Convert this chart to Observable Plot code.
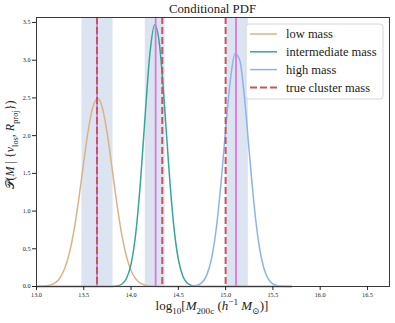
<!DOCTYPE html>
<html><head><meta charset="utf-8">
<script src="https://cdn.jsdelivr.net/npm/d3@7"></script>
<script src="https://cdn.jsdelivr.net/npm/@observablehq/plot@0.6"></script>
<style>body{margin:0;background:#fff;} svg{display:block}</style>
</head><body><div id="chart"></div>
<script>
const massGrid = [13.00,13.05,13.10,13.15,13.20,13.25,13.30,13.35,13.40,13.45,13.50,13.55,13.60,13.65,13.70,13.75,13.80,13.85,13.90,13.95,
  14.00,14.05,14.10,14.15,14.20,14.25,14.30,14.35,14.40,14.45,14.50,14.55,14.60,14.65,14.70,14.75,14.80,14.85,14.90,14.95,
  15.00,15.05,15.10,15.15,15.20,15.25,15.30,15.35,15.40,15.45,15.50,15.55,15.60,15.65,15.70];
const lowPdf = [0.001,0.003,0.008,0.021,0.052,0.118,0.244,0.455,0.772,1.186,1.654,2.090,2.396,2.492,2.350,2.010,1.559,1.097,0.700,0.405,
  0.213,0.101,0.044,0.017,0.006,0.002,0,0,0,0,0,0,0,0,0,0,0,0,0,0,
  0,0,0,0,0,0,0,0,0,0,0,0,0,0,0];
const intermediatePdf = [0,0,0,0,0,0,0,0,0,0,0,0,0,0,0,0,0.001,0.007,0.030,0.103,
  0.297,0.709,1.399,2.287,3.095,3.470,3.214,2.467,1.567,0.824,0.359,0.129,0.039,0.010,0.002,0,0,0,0,0,
  0,0,0,0,0,0,0,0,0,0,0,0,0,0,0];
const highPdf = [0,0,0,0,0,0,0,0,0,0,0,0,0,0,0,0,0,0,0,0,
  0,0,0,0,0,0,0,0,0,0,0,0,0.001,0.004,0.016,0.053,0.151,0.365,0.759,1.355,
  2.077,2.734,3.089,2.996,2.495,1.783,1.094,0.577,0.261,0.101,0.034,0.010,0.002,0,0];
const seriesNames = ["low mass", "intermediate mass", "high mass"];
const seriesColors = ["#dab384", "#35a699", "#8cb2f2"];
const bandLo = [13.48, 14.15, 15.01];
const bandHi = [13.81, 14.36, 15.24];
const estimateMass = [13.64, 14.26, 15.11];
const trueMass = [13.64, 14.33, 15.00];
const xTicks = [13.0, 13.5, 14.0, 14.5, 15.0, 15.5, 16.0, 16.5];
const yTicks = [0.0, 0.5, 1.0, 1.5, 2.0, 2.5, 3.0, 3.5];
const legendLabels = ["low mass", "intermediate mass", "high mass", "true cluster mass"];
const trueColor = "#cc525b";
const estimateColor = "#d97ad9";
const bandColor = "#dde4f1";

const rows = [];
[lowPdf, intermediatePdf, highPdf].forEach((arr, k) =>
  arr.forEach((v, i) => rows.push({series: seriesNames[k], mass: massGrid[i], pdf: v})));
const bands = bandLo.map((lo, i) => ({lo, hi: bandHi[i]}));

const FONT = "'Liberation Serif', 'DejaVu Serif', serif";
const plot = Plot.plot({
  width: 395, height: 323,
  marginLeft: 36, marginRight: 6, marginTop: 17, marginBottom: 37,
  style: {fontFamily: FONT, fontSize: "6.2px", color: "#222", background: "white", overflow: "visible"},
  x: {domain: [13, 16.733], label: null},
  y: {domain: [0, 3.566], label: null},
  color: {domain: seriesNames, range: seriesColors},
  marks: [
    Plot.rect(bands, {x1: "lo", x2: "hi", fill: bandColor}),
    Plot.line(rows, {x: "mass", y: "pdf", z: "series", stroke: "series", strokeWidth: 1.5, curve: "monotone-x"}),
    Plot.ruleX(estimateMass, {x: d => d, stroke: estimateColor, strokeWidth: 1.8}),
    Plot.ruleX(trueMass, {x: d => d, stroke: trueColor, strokeWidth: 2, strokeDasharray: "7,3"}),
    Plot.frame({stroke: "#3a3a3a", strokeWidth: 1}),
    Plot.axisX({ticks: xTicks, tickFormat: d3.format(".1f"), tickSize: 4, tickPadding: 2, label: null}),
    Plot.axisY({ticks: yTicks, tickFormat: d3.format(".1f"), tickSize: 4, tickPadding: 2, label: null})
  ]
});
document.getElementById("chart").appendChild(plot);

const svg = d3.select(plot);
function richText(sel, parts, size) {
  let shift = 0;
  parts.forEach(([t, kind]) => {
    const target = kind === "sub" ? size * 0.3 : kind === "sup" ? -size * 0.4 : 0;
    const ts = sel.append("tspan").text(t).attr("dy", target - shift);
    shift = target;
    if (kind === "sub" || kind === "sup") ts.attr("font-size", size * 0.7);
    if (kind === "i") ts.attr("font-style", "italic");
  });
}
// title
svg.append("text").attr("x", 212.5).attr("y", 13).attr("text-anchor", "middle")
  .attr("font-family", FONT).attr("font-size", 12.8).attr("fill", "#222").text("Conditional PDF");
// x label
const xl = svg.append("text").attr("x", 212).attr("y", 310).attr("text-anchor", "middle")
  .attr("font-family", FONT).attr("font-size", 13).attr("fill", "#222");
richText(xl, [["log",""],["10","sub"],["[",""],["M","i"],["200c","sub"],[" (",""],["h","i"],["\u22121","sup"],[" ",""],["M","i"],["\u2299","sub"],[")]",""]], 13);
// y label
const yl = svg.append("text").attr("transform", "translate(14,145) rotate(-90)").attr("text-anchor", "middle")
  .attr("font-family", FONT).attr("font-size", 12).attr("fill", "#222");
richText(yl, [["\u{1D4AB}",""],["(",""],["M","i"],[" | {",""],["v","i"],["los","sub"],[", ",""],["R","i"],["proj","sub"],["})",""]], 12);
// legend
const lg = svg.append("g").attr("text-anchor", "start");
lg.append("rect").attr("x", 246).attr("y", 24).attr("width", 137).attr("height", 75).attr("rx", 3)
  .attr("fill", "white").attr("fill-opacity", 0.8).attr("stroke", "#d6d6d6").attr("stroke-width", 1);
const legendColors = [...seriesColors, trueColor];
legendLabels.forEach((lab, i) => {
  const y = 34 + i * 17.8;
  lg.append("line").attr("x1", 250).attr("x2", 277).attr("y1", y).attr("y2", y)
    .attr("stroke", legendColors[i]).attr("stroke-width", i === 3 ? 2 : 1.5)
    .attr("stroke-dasharray", i === 3 ? "7,3" : null);
  lg.append("text").attr("x", 286).attr("y", y).attr("dy", "0.33em").attr("text-anchor", "start")
    .attr("font-family", FONT).attr("font-size", 12.5).attr("fill", "#222").text(lab);
});
</script></body></html>
